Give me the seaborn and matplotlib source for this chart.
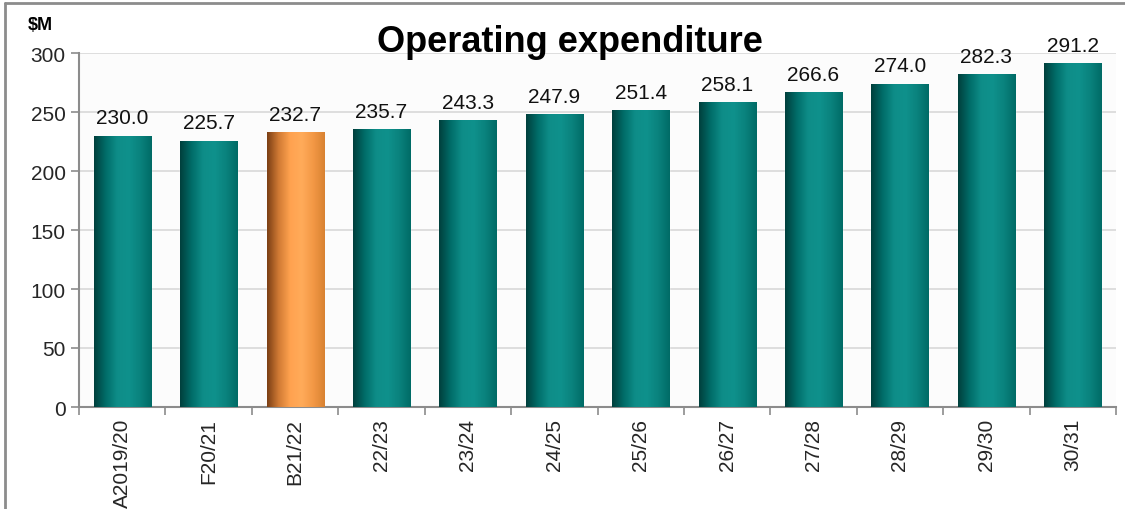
import matplotlib.pyplot as plt
import matplotlib.colors as mcolors
import numpy as np
import pandas as pd
import seaborn as sns

# Chart data
periods = ["A2019/20", "F20/21", "B21/22", "22/23", "23/24", "24/25",
           "25/26", "26/27", "27/28", "28/29", "29/30", "30/31"]
opex = [230.0, 225.7, 232.7, 235.7, 243.3, 247.9, 251.4, 258.1, 266.6, 274.0, 282.3, 291.2]
highlight = "B21/22"

df = pd.DataFrame({"period": periods, "opex": opex})
df["kind"] = np.where(df["period"] == highlight, "budget", "other")

teal_cmap = mcolors.LinearSegmentedColormap.from_list(
    "teal", ["#003f3c", "#006c68", "#0e8d88", "#0f918c", "#0a827d", "#006b66"])
orange_cmap = mcolors.LinearSegmentedColormap.from_list(
    "orange", ["#7a3e14", "#d07a34", "#ffa24f", "#ffab5a", "#f39845", "#d88232"])

sns.set_theme(style="white")
plt.rcParams["font.family"] = ["Liberation Sans", "DejaVu Sans"]

fig = plt.figure(figsize=(11.25, 5.1), dpi=100)
ax = fig.add_axes([79 / 1125, 1 - 408 / 510, (1116 - 79) / 1125, (408 - 54) / 510])
ax.set_facecolor("#fcfcfc")

sns.barplot(data=df, x="period", y="opex", hue="kind",
            palette={"other": "#0a8580", "budget": "#f59a48"},
            width=0.66, dodge=False, legend=False, ax=ax, zorder=2)

# cylinder-like shading on each bar
grad = np.linspace(0, 1, 256).reshape(1, -1)
for bar in ax.patches:
    x0, w, h = bar.get_x(), bar.get_width(), bar.get_height()
    if h == 0 or np.isnan(h):
        continue
    idx = int(round(x0 + w / 2))
    cmap = orange_cmap if periods[idx] == highlight else teal_cmap
    im = ax.imshow(grad, cmap=cmap, extent=[x0, x0 + w, 0, h], aspect="auto", zorder=3)
    im.set_clip_path(bar)
    ax.text(x0 + w / 2, h + 7, f"{h:.1f}", ha="center", va="bottom",
            fontsize=15, color="#111111", zorder=4)

ax.set_xlim(-0.5, len(periods) - 0.5)
ax.set_ylim(0, 300)
ax.set_yticks(range(0, 301, 50))
ax.set_xlabel("")
ax.set_ylabel("")
ax.yaxis.grid(True, color="#d9d9d9", linewidth=1.2, zorder=0)
ax.set_axisbelow(True)

ax.set_xticks(range(len(periods)))
ax.set_xticklabels(periods, rotation=90, fontsize=15)
ax.set_xticks(np.arange(-0.5, len(periods), 1), minor=True)
ax.tick_params(axis="x", which="major", length=0, pad=8)
ax.tick_params(axis="x", which="minor", length=6, width=1.2, color="#8c8c8c", direction="out", bottom=True)
ax.tick_params(axis="y", length=6, width=1.2, color="#8c8c8c", direction="out", left=True, labelsize=15)

for side in ["top", "right"]:
    ax.spines[side].set_visible(False)
for side in ["left", "bottom"]:
    ax.spines[side].set_color("#8c8c8c")
    ax.spines[side].set_linewidth(1.5)

fig.text(570 / 1125, 1 - 42 / 510, "Operating expenditure", ha="center", va="center",
         fontsize=26, fontweight="bold", color="#000000")
fig.text(40 / 1125, 1 - 25 / 510, "$M", ha="center", va="center",
         fontsize=13, fontweight="bold", color="#000000")

# outer frame (left and top edges visible)
fig.add_artist(plt.Line2D([5 / 1125, 5 / 1125], [0, 1 - 4 / 510], transform=fig.transFigure,
                          color="#8c8c8c", linewidth=2))
fig.add_artist(plt.Line2D([5 / 1125, 1], [1 - 4 / 510, 1 - 4 / 510], transform=fig.transFigure,
                          color="#8c8c8c", linewidth=2))

fig.savefig("out.png", dpi=100)
